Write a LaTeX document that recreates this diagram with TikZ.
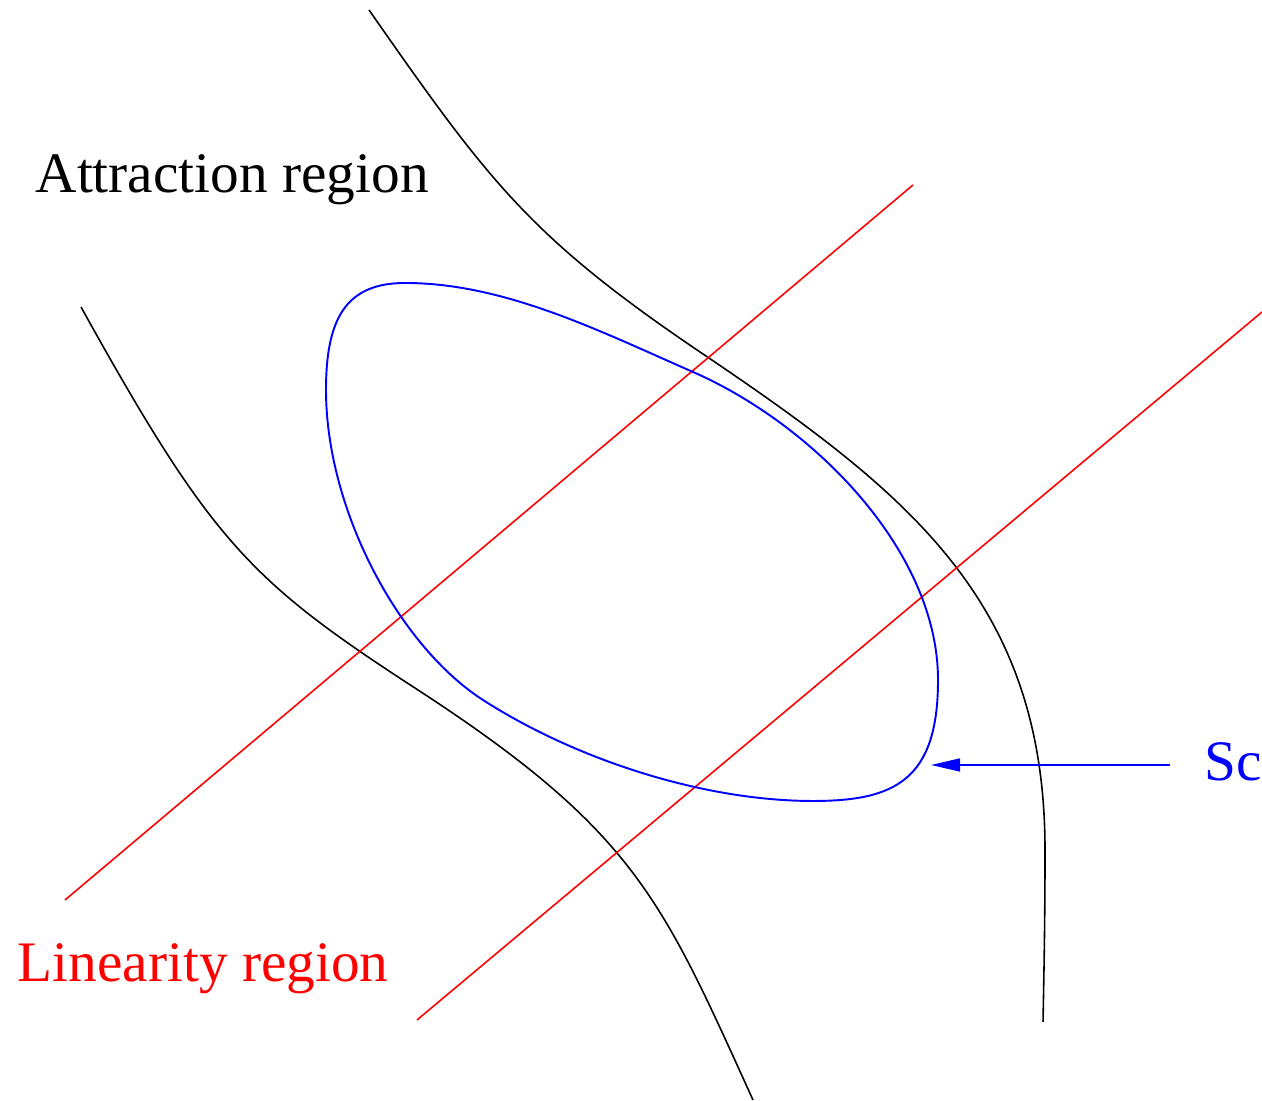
\documentclass[tikz,border=0pt]{standalone}
\usepackage{fontspec}
\setmainfont{Liberation Serif}
\usepackage{tikz}
\usetikzlibrary{arrows.meta}

\begin{document}
\begin{tikzpicture}[
  separatrix/.style={black,line width=0.45pt},
  linbound/.style={red,line width=0.45pt},
  sclevel/.style={blue,line width=0.55pt},
  lbl/.style={anchor=base west,inner sep=0pt,font=\fontsize{16.3}{20}\selectfont}]
\useasboundingbox (0,0) rectangle (12.62,11.01);
% boundaries of the attraction region
\draw[separatrix] (3.69,10.91) .. controls (4.89,9.19) and (5.30,8.64) .. (7.00,7.49)
  .. controls (9.075,6.09) and (10.45,5.01) .. (10.45,2.51)
  .. controls (10.45,1.81) and (10.44,1.31) .. (10.43,0.79);
\draw[separatrix] (0.81,7.94) .. controls (2.12,5.58) and (2.50,5.20) .. (4.18,4.11)
  .. controls (6.36,2.69) and (6.62,2.01) .. (7.53,0.01);
% linearity band
\draw[linbound] (0.65,2.01) -- (9.13,9.16);
\draw[linbound] (4.17,0.81) -- (12.62,7.89);
% level set Sc
\draw[sclevel] (3.26,7.11) .. controls (3.26,7.81) and (3.45,8.18) .. (4.05,8.18)
  .. controls (5.05,8.18) and (6.014,7.69) .. (6.93,7.29)
  .. controls (8.12,6.77) and (9.38,5.51) .. (9.38,4.21)
  .. controls (9.38,3.21) and (8.95,3.00) .. (8.13,3.00)
  .. controls (7.03,3.00) and (5.754,3.416) .. (4.83,4.01)
  .. controls (3.99,4.55) and (3.26,5.91) .. cycle;
\node[lbl] (attr) at (0.35,9.08) {Attraction region};
\node[lbl,red] (lin) at (0.17,1.19) {Linearity region};
\node[lbl,blue] (sc) at (12.04,3.20) {Sc};
\coordinate (sctail) at (11.70,3.36);
\coordinate (sctip) at (9.31,3.36);
\draw[sclevel,line width=0.45pt,-{Triangle[length=0.29cm,width=0.13cm]}] (sctail) -- (sctip);
\end{tikzpicture}
\end{document}
